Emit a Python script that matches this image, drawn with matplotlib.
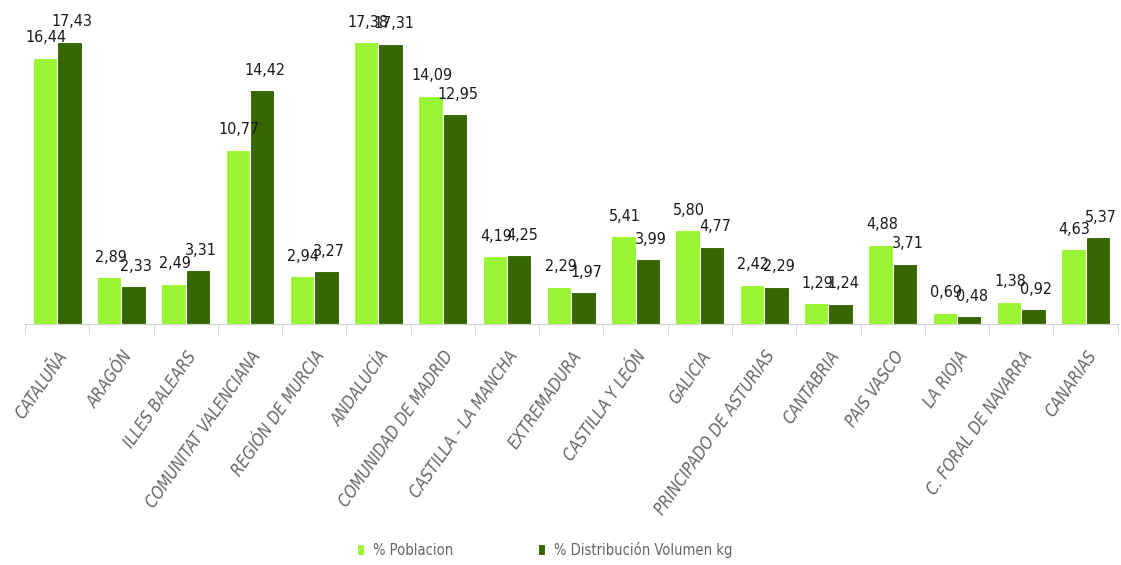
import matplotlib
matplotlib.use("Agg")
import matplotlib.pyplot as plt
import numpy as np
from matplotlib.ticker import FixedLocator

plt.rcParams['font.family'] = ['DejaVu Sans']
plt.rcParams['font.stretch'] = 'condensed'

regiones = ["CATALUÑA", "ARAGÓN", "ILLES BALEARS", "COMUNITAT VALENCIANA",
            "REGIÓN DE MURCIA", "ANDALUCÍA", "COMUNIDAD DE MADRID",
            "CASTILLA - LA MANCHA", "EXTREMADURA", "CASTILLA Y LEÓN", "GALICIA",
            "PRINCIPADO DE ASTURIAS", "CANTABRIA", "PAIS VASCO", "LA RIOJA",
            "C. FORAL DE NAVARRA", "CANARIAS"]
poblacion = [16.44, 2.89, 2.49, 10.77, 2.94, 17.38, 14.09, 4.19, 2.29, 5.41,
             5.80, 2.42, 1.29, 4.88, 0.69, 1.38, 4.63]
distribucion = [17.43, 2.33, 3.31, 14.42, 3.27, 17.31, 12.95, 4.25, 1.97, 3.99,
                4.77, 2.29, 1.24, 3.71, 0.48, 0.92, 5.37]
series_labels = ["% Poblacion", "% Distribución Volumen kg"]

c_light = "#99F533"
c_dark = "#376600"
gray = "#666666"

fig = plt.figure(figsize=(11.21, 5.65), dpi=100)
ax = fig.add_axes([0.0223, 0.4265, 0.9747, 0.5735])

x = np.arange(len(regiones))
w = 0.38
b1 = ax.bar(x - w / 2, poblacion, w, color=c_light, edgecolor="white", linewidth=0.8,
            label=series_labels[0])
b2 = ax.bar(x + w / 2, distribucion, w, color=c_dark, edgecolor="white", linewidth=0.8,
            label=series_labels[1])

def fmt(v):
    return f"{v:.2f}".replace(".", ",")

# value labels above each bar, decimal comma
for bars, vals, dx in ((b1, poblacion, 1), (b2, distribucion, 2)):
    for rect, v in zip(bars, vals):
        ax.annotate(fmt(v), (rect.get_x() + rect.get_width() / 2, v),
                    xytext=(dx, 9), textcoords="offset points",
                    ha="center", va="bottom", fontsize=11.5, color="#1a1a1a",
                    fontstretch="condensed")

ax.set_xlim(-0.5, len(regiones) - 0.5)
ax.set_ylim(0, 20)
ax.set_yticks([])
for s in ("top", "right", "left"):
    ax.spines[s].set_visible(False)
ax.spines["bottom"].set_color("#d0d0d0")

ax.set_xticks(x)
ax.set_xticklabels(regiones, rotation=55, ha="right", rotation_mode="anchor",
                   fontsize=12, color=gray, style="italic", fontstretch="condensed")
ax.tick_params(axis="x", which="major", length=0, pad=17)
# short separators between categories
ax.xaxis.set_minor_locator(FixedLocator(np.arange(-0.5, len(regiones), 1.0)))
ax.tick_params(axis="x", which="minor", length=7, color="#d0d0d0")

fig.legend(handles=[b1, b2], labels=series_labels, loc="center",
           bbox_to_anchor=(0.486, 0.027), ncol=2, frameon=False,
           prop={"size": 10.5, "stretch": "condensed"}, labelcolor=gray,
           handlelength=0.5, handleheight=0.8, handletextpad=0.6, columnspacing=5.8)

fig.savefig("out.png", dpi=100)
